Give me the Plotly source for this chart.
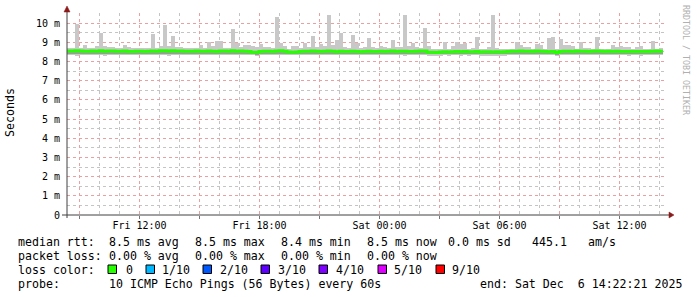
import plotly.graph_objects as go
from datetime import datetime, timedelta

# ---------------- data ----------------
start_time = datetime(2025, 12, 5, 8, 22, 21)
end_time = datetime(2025, 12, 6, 14, 22, 21)
step_minutes = 12

smoke_max = [
    8.70, 8.70, 9.95, 8.70, 8.85, 8.70, 8.70, 8.80, 9.48, 8.80,
    8.75, 8.75, 8.70, 8.70, 8.85, 8.75, 8.72, 8.72, 8.72, 8.72,
    8.72, 9.43, 8.72, 8.78, 9.90, 8.80, 9.32, 8.75, 8.75, 8.70,
    8.72, 8.70, 8.72, 8.85, 8.72, 9.00, 8.80, 9.08, 9.08, 8.72,
    8.72, 9.69, 8.95, 8.75, 8.85, 8.85, 8.80, 8.75, 8.90, 8.75,
    8.75, 8.72, 10.30, 8.95, 8.78, 8.67, 8.78, 8.80, 8.72, 8.95,
    8.75, 9.32, 8.75, 8.90, 8.80, 10.40, 8.85, 9.10, 9.48, 8.75,
    8.72, 9.37, 8.95, 8.70, 8.75, 9.20, 8.75, 8.72, 8.80, 8.75,
    8.72, 9.10, 8.75, 8.75, 10.40, 8.80, 8.95, 8.75, 8.72, 9.74,
    8.80, 8.67, 8.67, 8.67, 9.00, 8.67, 8.80, 9.00, 8.90, 8.95,
    8.67, 8.70, 9.27, 8.67, 8.67, 8.75, 10.40, 8.70, 8.67, 8.67,
    8.67, 8.67, 9.00, 8.85, 8.75, 8.75, 8.67, 8.90, 8.85, 8.67,
    9.20, 9.25, 8.67, 9.17, 8.85, 8.85, 8.80, 8.67, 9.00, 8.70,
    8.70, 8.67, 9.27, 8.67, 8.67, 8.67, 8.85, 8.75, 8.78, 8.75,
    8.75, 8.67, 8.75, 8.78, 8.67, 8.67, 9.05, 8.67, 8.70,
]

smoke_min = [
    8.33, 8.33, 8.30, 8.33, 8.34, 8.33, 8.32, 8.33, 8.33, 8.30,
    8.33, 8.34, 8.33, 8.33, 8.32, 8.33, 8.34, 8.33, 8.33, 8.34,
    8.33, 8.33, 8.34, 8.32, 8.33, 8.30, 8.33, 8.34, 8.34, 8.33,
    8.34, 8.33, 8.31, 8.33, 8.33, 8.34, 8.33, 8.32, 8.34, 8.33,
    8.33, 8.34, 8.33, 8.33, 8.32, 8.33, 8.32, 8.30, 8.33, 8.33,
    8.34, 8.33, 8.33, 8.34, 8.33, 8.31, 8.31, 8.32, 8.33, 8.33,
    8.34, 8.33, 8.33, 8.32, 8.33, 8.34, 8.33, 8.31, 8.33, 8.33,
    8.31, 8.34, 8.32, 8.31, 8.32, 8.33, 8.32, 8.33, 8.33, 8.32,
    8.33, 8.34, 8.33, 8.33, 8.30, 8.33, 8.32, 8.33, 8.33, 8.34,
    8.28, 8.29, 8.28, 8.30, 8.31, 8.30, 8.31, 8.31, 8.30, 8.32,
    8.30, 8.31, 8.31, 8.29, 8.30, 8.30, 8.29, 8.30, 8.28, 8.30,
    8.31, 8.33, 8.33, 8.33, 8.32, 8.33, 8.32, 8.33, 8.33, 8.32,
    8.31, 8.31, 8.28, 8.32, 8.33, 8.33, 8.32, 8.33, 8.33, 8.33,
    8.32, 8.33, 8.33, 8.33, 8.31, 8.33, 8.32, 8.33, 8.32, 8.32,
    8.30, 8.32, 8.32, 8.30, 8.32, 8.32, 8.33, 8.34, 8.33,
]

# second-lowest ping (darker inner smoke below the median)
smoke_inner_low = [
    8.40, 8.38, 8.40, 8.41, 8.39, 8.38, 8.39, 8.38, 8.40, 8.41,
    8.40, 8.41, 8.38, 8.40, 8.39, 8.40, 8.41, 8.40, 8.41, 8.40,
    8.39, 8.40, 8.41, 8.39, 8.38, 8.40, 8.39, 8.38, 8.38, 8.39,
    8.40, 8.41, 8.39, 8.38, 8.40, 8.41, 8.38, 8.39, 8.40, 8.40,
    8.41, 8.40, 8.39, 8.40, 8.38, 8.40, 8.37, 8.38, 8.40, 8.39,
    8.40, 8.41, 8.40, 8.38, 8.39, 8.38, 8.37, 8.38, 8.39, 8.40,
    8.40, 8.41, 8.39, 8.38, 8.40, 8.40, 8.39, 8.38, 8.38, 8.39,
    8.38, 8.40, 8.38, 8.37, 8.39, 8.40, 8.39, 8.40, 8.41, 8.38,
    8.40, 8.41, 8.39, 8.40, 8.38, 8.40, 8.39, 8.38, 8.40, 8.41,
    8.36, 8.37, 8.36, 8.38, 8.38, 8.37, 8.38, 8.39, 8.37, 8.39,
    8.38, 8.38, 8.39, 8.37, 8.38, 8.38, 8.37, 8.38, 8.37, 8.38,
    8.39, 8.40, 8.40, 8.41, 8.39, 8.40, 8.38, 8.40, 8.41, 8.39,
    8.38, 8.38, 8.35, 8.39, 8.40, 8.40, 8.39, 8.41, 8.40, 8.40,
    8.39, 8.40, 8.41, 8.40, 8.38, 8.40, 8.39, 8.40, 8.39, 8.39,
    8.38, 8.39, 8.40, 8.38, 8.39, 8.39, 8.40, 8.41, 8.40,
]

median_rtt = [
    8.54, 8.54, 8.55, 8.54, 8.53, 8.53, 8.54, 8.53, 8.55, 8.53,
    8.54, 8.54, 8.53, 8.53, 8.54, 8.52, 8.52, 8.53, 8.53, 8.52,
    8.53, 8.54, 8.53, 8.55, 8.56, 8.54, 8.55, 8.54, 8.54, 8.53,
    8.53, 8.53, 8.54, 8.53, 8.53, 8.54, 8.53, 8.52, 8.54, 8.54,
    8.53, 8.55, 8.53, 8.54, 8.53, 8.52, 8.48, 8.48, 8.52, 8.53,
    8.53, 8.52, 8.54, 8.55, 8.53, 8.49, 8.48, 8.49, 8.52, 8.53,
    8.53, 8.54, 8.53, 8.52, 8.53, 8.54, 8.53, 8.50, 8.53, 8.52,
    8.51, 8.53, 8.52, 8.50, 8.52, 8.53, 8.52, 8.52, 8.53, 8.52,
    8.53, 8.54, 8.52, 8.53, 8.53, 8.52, 8.52, 8.53, 8.54, 8.54,
    8.48, 8.48, 8.47, 8.49, 8.50, 8.49, 8.50, 8.51, 8.50, 8.51,
    8.50, 8.50, 8.51, 8.49, 8.50, 8.50, 8.49, 8.50, 8.49, 8.50,
    8.51, 8.53, 8.53, 8.54, 8.53, 8.53, 8.52, 8.54, 8.53, 8.52,
    8.50, 8.51, 8.46, 8.52, 8.53, 8.53, 8.52, 8.54, 8.53, 8.53,
    8.52, 8.53, 8.54, 8.53, 8.52, 8.53, 8.52, 8.53, 8.52, 8.52,
    8.51, 8.52, 8.52, 8.51, 8.52, 8.52, 8.53, 8.54, 8.53,
]

y_tick_values = [0, 1, 2, 3, 4, 5, 6, 7, 8, 9, 10]
y_tick_labels = ["0", "1 m", "2 m", "3 m", "4 m", "5 m", "6 m", "7 m", "8 m", "9 m", "10 m"]

x_tick_values = [datetime(2025, 12, 5, 9), datetime(2025, 12, 5, 12), datetime(2025, 12, 5, 15),
                 datetime(2025, 12, 5, 18), datetime(2025, 12, 5, 21), datetime(2025, 12, 6, 0),
                 datetime(2025, 12, 6, 3), datetime(2025, 12, 6, 6), datetime(2025, 12, 6, 9),
                 datetime(2025, 12, 6, 12)]
x_tick_labels = ["", "Fri 12:00", "", "Fri 18:00", "", "Sat 00:00", "", "Sat 06:00", "", "Sat 12:00"]

legend_rows = [
    [("median rtt:", 16), ("8.5 ms avg", 107), ("8.5 ms max", 193), ("8.4 ms min", 279),
     ("8.5 ms now", 365), ("0.0 ms sd", 446), ("445.1", 530), ("am/s", 586)],
    [("packet loss:", 16), ("0.00 % avg", 107), ("0.00 % max", 193), ("0.00 % min", 279),
     ("0.00 % now", 365)],
    [("loss color:", 16)],
    [("probe:", 16), ("10 ICMP Echo Pings (56 Bytes) every 60s", 107),
     ("end: Sat Dec\u00a0\u00a06 14:22:21 2025", 478)],
]
legend_row_y = [242.5, 256, 270, 284]

loss_labels = ["0", "1/10", "2/10", "3/10", "4/10", "5/10", "9/10"]
loss_colors = ["#26ff00", "#00b8ff", "#0059ff", "#5e00ff", "#7e00ff", "#dd00ff", "#ff0000"]
loss_box_x = [108, 146, 203, 261, 319, 378, 436]
loss_text_x = [124, 160, 218, 276, 334, 392, 450]

# ---------------- geometry ----------------
W, H = 697, 297
PL, PR, PT, PB = 67, 667, 13, 215
MONO = "DejaVu Sans Mono"


def px(x):
    return (x - PL) / (PR - PL)


def py(y):
    return (PB - y) / (PB - PT)


step = timedelta(minutes=step_minutes)
bin_start = [start_time + step * i for i in range(len(median_rtt))]
bin_center = [t + step / 2 for t in bin_start]

fig = go.Figure()

fig.add_trace(go.Bar(
    x=bin_center,
    y=[hi - lo for hi, lo in zip(smoke_max, smoke_min)],
    base=smoke_min,
    width=step_minutes * 60 * 1000,
    marker=dict(color="#c8c8c8", line=dict(width=0)),
    hoverinfo="skip",
    showlegend=False,
))

fig.add_trace(go.Bar(
    x=bin_center,
    y=[m - lo for m, lo in zip(median_rtt, smoke_inner_low)],
    base=smoke_inner_low,
    width=step_minutes * 60 * 1000,
    marker=dict(color="#9a9a9a", line=dict(width=0)),
    hoverinfo="skip",
    showlegend=False,
))

fig.add_trace(go.Scatter(
    x=bin_start + [bin_start[-1] + step],
    y=median_rtt + [median_rtt[-1]],
    mode="lines",
    line=dict(color="#26ff00", width=3, shape="hv"),
    hoverinfo="skip",
    showlegend=False,
))

fig.update_layout(
    width=W, height=H,
    margin=dict(l=PL, r=W - PR, t=PT, b=H - PB),
    paper_bgcolor="white",
    plot_bgcolor="white",
    bargap=0,
    barmode="overlay",
    showlegend=False,
    font=dict(family=MONO, size=10, color="black"),
)

fig.update_xaxes(
    type="date",
    range=[start_time, end_time],
    tickmode="array",
    tickvals=x_tick_values,
    ticktext=x_tick_labels,
    showgrid=True,
    gridcolor="#eba0a0",
    griddash="dot",
    gridwidth=1,
    minor=dict(dtick=3600000, tick0=datetime(2025, 12, 5, 0), showgrid=True,
               gridcolor="#c4c4c4", griddash="dot", gridwidth=1),
    ticks="outside", ticklen=3, tickcolor="#777", ticklabelstandoff=-2,
    showline=False, zeroline=False,
    tickfont=dict(family=MONO, size=10, color="black"),
    fixedrange=True,
)

fig.update_yaxes(
    range=[0, (PB - PT) / 19.2],
    tickmode="array",
    tickvals=y_tick_values,
    ticktext=y_tick_labels,
    showgrid=True,
    gridcolor="#eba0a0",
    griddash="dot",
    gridwidth=1,
    minor=dict(dtick=0.5, showgrid=True, gridcolor="#c4c4c4", griddash="dot", gridwidth=1),
    ticks="", ticklabelstandoff=6,
    showline=False, zeroline=False,
    tickfont=dict(family=MONO, size=10, color="black"),
    fixedrange=True,
)

shapes = []
# axis lines
shapes.append(dict(type="line", xref="paper", yref="paper", x0=px(62), x1=px(671), y0=0, y1=0,
                   line=dict(color="#404040", width=1)))
shapes.append(dict(type="line", xref="paper", yref="paper", x0=0, x1=0, y0=py(218), y1=py(9),
                   line=dict(color="#404040", width=1)))
# arrows
shapes.append(dict(type="path", xref="paper", yref="paper",
                   path=f"M {px(669)} {py(212)} L {px(674)} {py(215)} L {px(669)} {py(218)} Z",
                   fillcolor="#8b1a1a", line=dict(color="#8b1a1a", width=0.5)))
shapes.append(dict(type="path", xref="paper", yref="paper",
                   path=f"M {px(64)} {py(12)} L {px(67)} {py(6)} L {px(70)} {py(12)} Z",
                   fillcolor="#8b1a1a", line=dict(color="#8b1a1a", width=0.5)))
# loss colour boxes
for bx, col in zip(loss_box_x, loss_colors):
    shapes.append(dict(type="rect", xref="paper", yref="paper",
                       x0=px(bx), x1=px(bx + 8.5), y0=py(273.5), y1=py(265),
                       fillcolor=col, line=dict(color="black", width=1)))

annotations = []
for row, yy in zip(legend_rows, legend_row_y):
    for text, xx in row:
        annotations.append(dict(text=text, x=px(xx), y=py(yy), xref="paper", yref="paper",
                                xanchor="left", yanchor="middle", showarrow=False,
                                font=dict(family=MONO, size=11.6, color="black")))
for text, xx in zip(loss_labels, loss_text_x):
    annotations.append(dict(text=text, x=px(xx), y=py(legend_row_y[2]), xref="paper", yref="paper",
                            xanchor="left", yanchor="middle", showarrow=False,
                            font=dict(family=MONO, size=11.6, color="black")))

annotations.append(dict(text="Seconds", x=px(10), y=py(113), xref="paper", yref="paper",
                        xanchor="center", yanchor="middle", textangle=-90, showarrow=False,
                        font=dict(family=MONO, size=11.6, color="black")))
annotations.append(dict(text="RRDTOOL / TOBI OETIKER", x=px(686), y=py(60), xref="paper", yref="paper",
                        xanchor="center", yanchor="middle", textangle=90, showarrow=False,
                        font=dict(family=MONO, size=8.3, color="#b0b0b0")))

fig.update_layout(shapes=shapes, annotations=annotations)

fig.write_html("out.html")
